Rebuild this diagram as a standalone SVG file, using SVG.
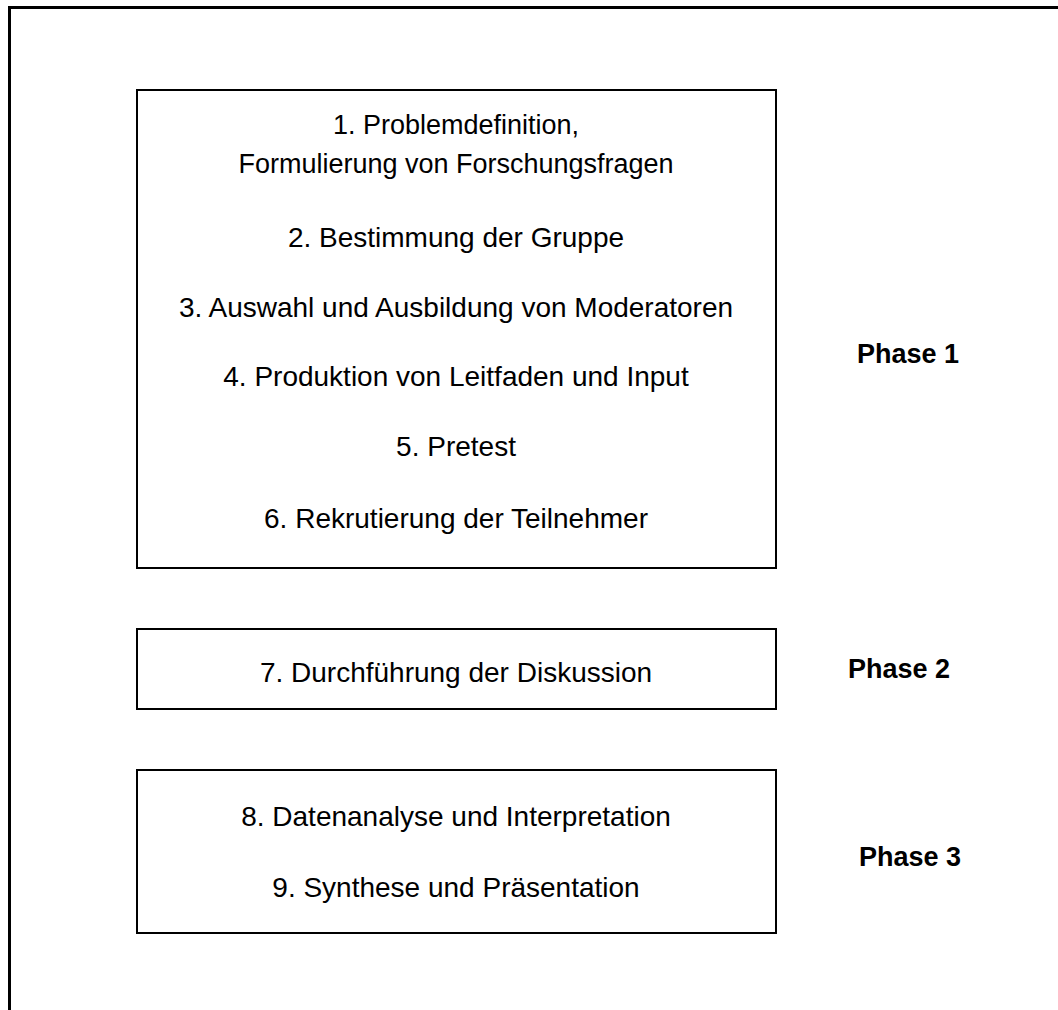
<svg xmlns="http://www.w3.org/2000/svg" width="1058" height="1010" viewBox="0 0 1058 1010">
<style>
.box{fill:#fff;stroke:#000;stroke-width:2}
.t{font-family:"Liberation Sans",Arial,sans-serif;font-size:28px;fill:#000;text-anchor:middle}
.s{font-size:27px}
.p{font-family:"Liberation Sans",Arial,sans-serif;font-size:27px;font-weight:bold;fill:#000;text-anchor:middle}
.frame{fill:none;stroke:#000;stroke-width:3}
</style>
<rect width="1058" height="1010" fill="#fff"/>
<path class="frame" d="M9.5 1012 V7.5 H1060"/>
<g id="phase1">
<rect class="box" x="137" y="90" width="639" height="478"/>
<text class="t s" x="456" y="134">1. Problemdefinition,</text>
<text class="t s" x="456" y="173">Formulierung von Forschungsfragen</text>
<text class="t" x="456" y="247">2. Bestimmung der Gruppe</text>
<text class="t" x="456" y="317">3. Auswahl und Ausbildung von Moderatoren</text>
<text class="t" x="456" y="386">4. Produktion von Leitfaden und Input</text>
<text class="t" x="456" y="456">5. Pretest</text>
<text class="t" x="456" y="528">6. Rekrutierung der Teilnehmer</text>
</g>
<g id="phase1-label"><text class="p" x="908" y="363">Phase 1</text></g>
<g id="phase2">
<rect class="box" x="137" y="629" width="639" height="80"/>
<text class="t" x="456" y="682">7. Durchführung der Diskussion</text>
</g>
<g id="phase2-label"><text class="p" x="899" y="678">Phase 2</text></g>
<g id="phase3">
<rect class="box" x="137" y="770" width="639" height="163"/>
<text class="t" x="456" y="826">8. Datenanalyse und Interpretation</text>
<text class="t" x="456" y="897">9. Synthese und Präsentation</text>
</g>
<g id="phase3-label"><text class="p" x="910" y="866">Phase 3</text></g>
<g id="connectors"></g>
</svg>
